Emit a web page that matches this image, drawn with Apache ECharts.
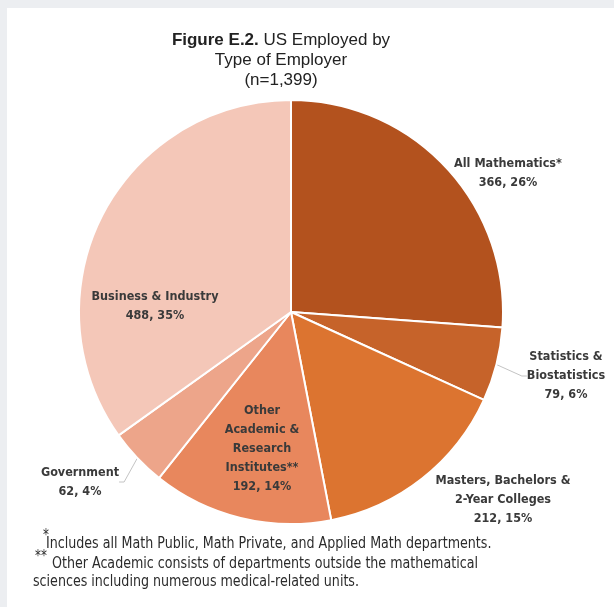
<!DOCTYPE html>
<html>
<head>
<meta charset="utf-8">
<script src="https://cdn.jsdelivr.net/npm/echarts@6/dist/echarts.min.js"></script>
<style>
  html, body { margin: 0; padding: 0; background: #eceef1; }
  #chart { width: 614px; height: 607px; }
</style>
</head>
<body>
<div id="chart"></div>
<script>
// Employer categories, clockwise from twelve o'clock
const categories = [
  'All Mathematics*',
  'Statistics &\nBiostatistics',
  'Masters, Bachelors &\n2-Year Colleges',
  'Other\nAcademic &\nResearch\nInstitutes**',
  'Government',
  'Business & Industry'
];
// Number of employed respondents per category
const counts = [366, 79, 212, 192, 62, 488];

const titleLines = ['US Employed by', 'Type of Employer', '(n=1,399)'];
const footnotes = [
  'Includes all Math Public, Math Private, and Applied Math departments.',
  'Other Academic consists of departments outside the mathematical',
  'sciences including numerous medical-related units.'
];

const sliceColors = ['#b3521e', '#c6632a', '#dc7430', '#e8875d', '#eda58a', '#f4c7b8'];
// label placement (centre of each label block) and whether it gets a leader line
const labelSpots = [
  { x: 508, y: 173, line: false },
  { x: 566, y: 376, line: true },
  { x: 503, y: 500, line: false },
  { x: 262, y: 449, line: false },
  { x: 80, y: 482, line: true },
  { x: 155, y: 306, line: false }
];

const NARROW = "'Liberation Sans Narrow', 'DejaVu Sans Condensed', 'Roboto', sans-serif";
const total = counts.reduce((a, b) => a + b, 0);

const chart = echarts.init(document.getElementById('chart'), null, { renderer: 'canvas' });

const data = categories.map((name, i) => ({
  name: name,
  value: counts[i],
  itemStyle: { color: sliceColors[i] },
  labelLine: { show: labelSpots[i].line }
}));

// footnote text, horizontally squeezed to a condensed look
const noteText = (txt, x, y, size) => ({
  type: 'text', x: x, y: y, scaleX: 0.88,
  style: { text: txt, font: size + 'px ' + NARROW, fill: '#2b2b2b', verticalAlign: 'middle', align: 'left' }
});

chart.setOption({
  animation: false,
  graphic: [
    { type: 'rect', z: -10, shape: { x: 7, y: 8, width: 607, height: 599 }, style: { fill: '#ffffff' } },
    noteText('*', 43, 536, 15),
    noteText('**', 35, 557, 15),
    noteText(footnotes[0], 46, 544, 16),
    noteText(footnotes[1], 52, 564, 16),
    noteText(footnotes[2], 33, 582, 16)
  ],
  title: {
    text: '{b|Figure E.2.} ' + titleLines.join('\n'),
    left: 276,
    top: 25,
    textAlign: 'center',
    textStyle: {
      fontFamily: "'Liberation Sans', Arial, sans-serif",
      fontSize: 17,
      fontWeight: 'normal',
      color: '#222',
      lineHeight: 20,
      rich: {
        b: { fontFamily: "'Liberation Sans', Arial, sans-serif", fontSize: 17, fontWeight: 'bold', color: '#222', lineHeight: 20 }
      }
    }
  },
  series: [{
    type: 'pie',
    center: [291, 312],
    radius: 212,
    startAngle: 90,
    clockwise: true,
    avoidLabelOverlap: false,
    data: data,
    itemStyle: { borderColor: '#ffffff', borderWidth: 2 },
    label: {
      show: true,
      position: 'outside',
      fontFamily: NARROW,
      fontSize: 12.5,
      fontWeight: 'bold',
      color: '#3a3a3a',
      lineHeight: 19,
      align: 'center',
      formatter: p => p.name + '\n' + p.value + ', ' + Math.round(p.value / total * 100) + '%'
    },
    labelLine: { lineStyle: { color: '#c4c4c4', width: 1 }, length: 5, length2: 5 },
    labelLayout: p => {
      const s = labelSpots[p.dataIndex];
      return { x: s.x, y: s.y, align: 'center', verticalAlign: 'middle' };
    }
  }]
});
</script>
</body>
</html>
